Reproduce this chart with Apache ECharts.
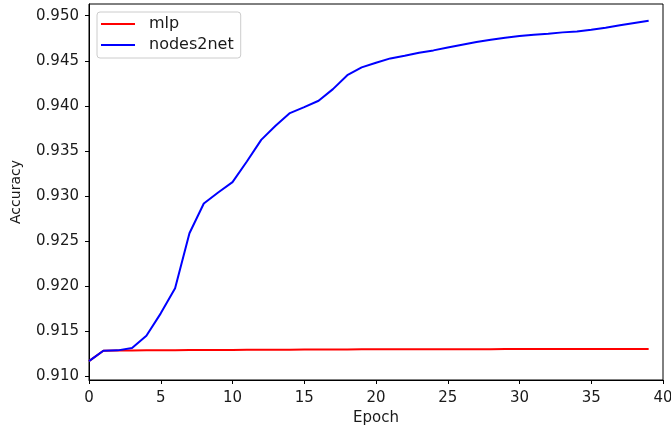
<!DOCTYPE html>
<html>
<head>
<meta charset="utf-8">
<script src="https://cdn.jsdelivr.net/npm/echarts@6/dist/echarts.min.js"></script>
<style>
  html, body { margin: 0; padding: 0; background: #fff; }
  #main { width: 671px; height: 428px; }
</style>
</head>
<body>
<div id="main"></div>
<script>
const epochs = [0, 1, 2, 3, 4, 5, 6, 7, 8, 9, 10, 11, 12, 13, 14, 15, 16, 17, 18, 19,
  20, 21, 22, 23, 24, 25, 26, 27, 28, 29, 30, 31, 32, 33, 34, 35, 36, 37, 38, 39];

const mlp = [0.91165, 0.91281, 0.91283, 0.91284, 0.91285, 0.91286, 0.91287, 0.91288, 0.91289, 0.9129,
  0.9129, 0.91291, 0.91292, 0.91293, 0.91293, 0.91294, 0.91294, 0.91295, 0.91295, 0.91296,
  0.91296, 0.91296, 0.91297, 0.91297, 0.91297, 0.91298, 0.91298, 0.91298, 0.91298, 0.91299,
  0.91299, 0.91299, 0.91299, 0.913, 0.913, 0.913, 0.913, 0.913, 0.913, 0.913];

const nodes2net = [0.91165, 0.91281, 0.91285, 0.91311, 0.91448, 0.91696, 0.91974, 0.92585, 0.92915, 0.93037,
  0.93152, 0.93381, 0.93622, 0.93778, 0.93919, 0.93985, 0.94056, 0.94185, 0.9434, 0.94426,
  0.94478, 0.94526, 0.94556, 0.94589, 0.94615, 0.94648, 0.94678, 0.94707, 0.94733, 0.94756,
  0.94774, 0.94789, 0.948, 0.94815, 0.94826, 0.94844, 0.94867, 0.94893, 0.94919, 0.94944];

const yTicks = [0.910, 0.915, 0.920, 0.925, 0.930, 0.935, 0.940, 0.945, 0.950];

const font = 'DejaVu Sans';
const ink = '#1a1a1a';

const myChart = echarts.init(document.getElementById('main'), null, { renderer: 'canvas' });

function pairs(ys) {
  return epochs.map(function (x, i) {
    return [x, ys[i]];
  });
}

const option = {
  animation: false,
  backgroundColor: '#fff',
  grid: {
    left: 89, right: 8, top: 4, bottom: 48,
    outerBoundsMode: 'none',
    containLabel: false,
    show: true,
    borderColor: '#000',
    borderWidth: 1
  },
  legend: {
    orient: 'vertical',
    left: 97, top: 12,
    padding: [4, 7, 5, 4],
    itemGap: 5,
    itemWidth: 34,
    itemHeight: 2,
    icon: 'rect',
    backgroundColor: '#fff',
    borderColor: '#ccc',
    borderWidth: 1,
    borderRadius: 3,
    textStyle: { fontFamily: font, fontSize: 16, color: ink, padding: [0, 0, 0, 9] },
    data: ['mlp', 'nodes2net']
  },
  xAxis: {
    type: 'value',
    min: 0, max: 40, interval: 5,
    name: 'Epoch',
    nameLocation: 'middle',
    nameGap: 31,
    nameTextStyle: { fontFamily: font, fontSize: 15, color: ink },
    axisLine: { lineStyle: { color: '#000', width: 1 } },
    axisTick: { length: 4, lineStyle: { color: '#000' } },
    axisLabel: { fontFamily: font, fontSize: 15, color: ink, margin: 11 },
    splitLine: { show: false }
  },
  yAxis: {
    type: 'value',
    min: 0.90956, max: 0.9513,
    name: 'Accuracy',
    nameLocation: 'middle',
    nameGap: 66,
    nameTextStyle: { fontFamily: font, fontSize: 14, color: ink },
    axisLine: { show: true, lineStyle: { color: '#000', width: 1 } },
    axisTick: { show: true, length: 4, lineStyle: { color: '#000' }, customValues: yTicks },
    axisLabel: {
      fontFamily: font, fontSize: 15, color: ink, margin: 10,
      customValues: yTicks,
      formatter: function (v) { return v.toFixed(3); }
    },
    splitLine: { show: false }
  },
  series: [
    {
      name: 'mlp',
      type: 'line',
      data: pairs(mlp),
      showSymbol: false,
      symbol: 'none',
      color: '#ff0000',
      lineStyle: { color: '#ff0000', width: 2 }
    },
    {
      name: 'nodes2net',
      type: 'line',
      data: pairs(nodes2net),
      showSymbol: false,
      symbol: 'none',
      color: '#0000ff',
      lineStyle: { color: '#0000ff', width: 2 }
    }
  ]
};

myChart.setOption(option);
</script>
</body>
</html>
